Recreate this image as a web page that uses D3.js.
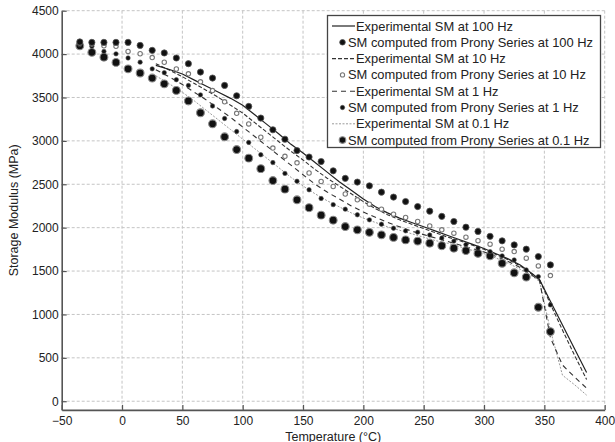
<!DOCTYPE html>
<html>
<head>
<meta charset="utf-8">
<script src="https://cdn.jsdelivr.net/npm/d3@7"></script>
<style>
  html, body { margin: 0; padding: 0; background: #fff; }
  svg { display: block; font-family: "Liberation Sans", Arial, Helvetica, sans-serif; }
</style>
</head>
<body>
<svg id="chart" width="615" height="442"></svg>
<script>
// Temperatures (°C) at which the Prony-series storage modulus was evaluated
const pronyTemps = [-35, -25, -15, -5, 5, 15, 25, 35, 45, 55, 65, 75, 85, 95, 105, 115, 125, 135, 145, 155,
  165, 175, 185, 195, 205, 215, 225, 235, 245, 255, 265, 275, 285, 295, 305, 315, 325, 335, 345, 355];

// Storage modulus (MPa) computed from the Prony series
const prony100 = [4140, 4135, 4135, 4135, 4135, 4100, 4043, 4013, 3955, 3889, 3793, 3724, 3639, 3520, 3397, 3263, 3128, 3019, 2888, 2814,
  2762, 2655, 2568, 2525, 2482, 2409, 2352, 2301, 2243, 2190, 2130, 2071, 2005, 1956, 1900, 1848, 1801, 1752, 1667, 1571];
const prony10 = [4128, 4115, 4095, 4090, 4031, 4004, 3960, 3906, 3828, 3773, 3680, 3580, 3450, 3317, 3195, 3042, 2917, 2822, 2747, 2630,
  2532, 2474, 2388, 2321, 2271, 2213, 2155, 2117, 2071, 2020, 1975, 1936, 1890, 1850, 1810, 1752, 1724, 1648, 1559, 1448];
const prony1 = [4110, 4090, 4031, 4003, 3955, 3907, 3830, 3786, 3705, 3639, 3530, 3402, 3258, 3108, 2982, 2840, 2750, 2625, 2535, 2436,
  2336, 2265, 2213, 2148, 2090, 2040, 1994, 1963, 1948, 1915, 1880, 1845, 1805, 1765, 1724, 1675, 1628, 1513, 1436, 1110];
const prony01 = [4095, 4020, 3964, 3904, 3830, 3782, 3724, 3657, 3581, 3460, 3324, 3197, 3047, 2900, 2801, 2680, 2543, 2444, 2321, 2230,
  2144, 2086, 2013, 1975, 1946, 1917, 1888, 1859, 1845, 1821, 1792, 1763, 1736, 1703, 1675, 1590, 1480, 1430, 1083, 802];

// Temperatures (°C) of the experimental DMA readings
const expTemps = [28, 40, 50, 60, 70, 80, 90, 100, 110, 120, 130, 140, 150, 160, 170, 180, 190, 200, 210, 220,
  230, 240, 250, 260, 270, 280, 290, 300, 310, 320, 330, 340, 346, 355, 365, 375, 385];

// Experimental storage modulus (MPa)
const exp100 = [3870, 3820, 3770, 3700, 3630, 3560, 3490, 3410, 3300, 3190, 3080, 2960, 2860, 2750, 2640, 2530, 2430, 2330, 2240, 2170,
  2110, 2060, 2010, 1960, 1910, 1860, 1810, 1760, 1700, 1640, 1570, 1470, 1400, 1153, 879, 604, 330];
const exp10 = [3890, 3810, 3740, 3660, 3580, 3500, 3410, 3320, 3210, 3100, 2990, 2880, 2780, 2670, 2570, 2480, 2390, 2300, 2220, 2150,
  2090, 2040, 1990, 1940, 1890, 1850, 1800, 1750, 1690, 1630, 1560, 1460, 1400, 1120, 820, 530, 250];
const exp1 = [3820, 3730, 3650, 3560, 3470, 3370, 3270, 3160, 3050, 2940, 2830, 2720, 2610, 2500, 2410, 2330, 2250, 2180, 2120, 2060,
  2010, 1960, 1920, 1880, 1840, 1800, 1760, 1720, 1670, 1610, 1540, 1450, 1390, 732, 417, 280, 150];
const exp01 = [3750, 3650, 3560, 3460, 3350, 3240, 3130, 3020, 2910, 2800, 2690, 2580, 2480, 2390, 2310, 2240, 2170, 2110, 2060, 2010,
  1970, 1930, 1890, 1850, 1820, 1780, 1740, 1700, 1650, 1590, 1520, 1440, 1380, 820, 300, 190, 70];

// Axis ticks
const xTicks = [-50, 0, 50, 100, 150, 200, 250, 300, 350, 400];
const yTicks = [0, 500, 1000, 1500, 2000, 2500, 3000, 3500, 4000, 4500];

const legendLabels = [
  "Experimental SM at 100 Hz",
  "SM computed from Prony Series at 100 Hz",
  "Experimental SM at 10 Hz",
  "SM computed from Prony Series at 10 Hz",
  "Experimental SM at 1 Hz",
  "SM computed from Prony Series at 1 Hz",
  "Experimental SM at 0.1 Hz",
  "SM computed from Prony Series at 0.1 Hz"
];

// Line and marker styles per frequency
const lineStyles = [
  { values: exp100, stroke: "#222", width: 1.2, dash: null },
  { values: exp10, stroke: "#333", width: 1.1, dash: "4,2" },
  { values: exp1, stroke: "#333", width: 1.1, dash: "5,4" },
  { values: exp01, stroke: "#9a9a9a", width: 1, dash: "2,1.5" }
];
const markerStyles = [
  { values: prony100, r: 3.1, fill: "#111", stroke: "#555", sw: 0.8, lr: 2.8 },
  { values: prony10, r: 2.2, fill: "#fff", stroke: "#777", sw: 1.1, lr: 2.1 },
  { values: prony1, r: 2.2, fill: "#111", stroke: "#555", sw: 0.6, lr: 2.2 },
  { values: prony01, r: 3.9, fill: "#111", stroke: "#8a8a8a", sw: 1.1, lr: 3.3 }
];

const svg = d3.select("#chart");
const plotLeft = 61.7, plotRight = 604.7, plotTop = 10.7, plotBottom = 409.9;

const x = d3.scaleLinear().domain([-50, 400]).range([plotLeft, plotRight]);
const y = d3.scaleLinear().domain([-100, 4500]).range([plotBottom, plotTop]);

// Dashed grid
const grid = svg.append("g").attr("stroke", "#c4c4c4").attr("stroke-width", 1).attr("stroke-dasharray", "3,2");
grid.selectAll("line.gx").data(xTicks.filter(d => d !== -50)).join("line")
  .attr("class", "gx")
  .attr("x1", d => x(d)).attr("x2", d => x(d))
  .attr("y1", plotTop).attr("y2", plotBottom);
grid.selectAll("line.gy").data(yTicks).join("line")
  .attr("class", "gy")
  .attr("x1", plotLeft).attr("x2", plotRight)
  .attr("y1", d => y(d)).attr("y2", d => y(d));

// Axes with inward ticks
const xAxis = d3.axisBottom(x).tickValues(xTicks).tickFormat(d3.format("d"))
  .tickSizeInner(-5).tickSizeOuter(0).tickPadding(7);
const yAxis = d3.axisLeft(y).tickValues(yTicks).tickFormat(d3.format("d"))
  .tickSizeInner(-5).tickSizeOuter(0).tickPadding(3);

const gx = svg.append("g").attr("transform", `translate(0,${plotBottom})`).call(xAxis);
const gy = svg.append("g").attr("transform", `translate(${plotLeft},0)`).call(yAxis);
[gx, gy].forEach(g => {
  g.select(".domain").attr("stroke", "#555").attr("stroke-width", 1.6);
  g.selectAll(".tick line").attr("stroke", "#555").attr("stroke-width", 1.2);
  g.selectAll(".tick text").attr("fill", "#222").style("font-size", "12px")
    .style("font-family", "'Liberation Sans', Arial, sans-serif");
});

// Axis titles
svg.append("text")
  .attr("x", (plotLeft + plotRight) / 2).attr("y", 440.5)
  .attr("text-anchor", "middle").attr("fill", "#222").style("font-size", "12.5px")
  .text("Temperature (°C)");
svg.append("text")
  .attr("transform", `translate(18,${(plotTop + plotBottom) / 2}) rotate(-90)`)
  .attr("text-anchor", "middle").attr("fill", "#222").style("font-size", "12.5px")
  .text("Storage Modulus (MPa)");

// Experimental curves
const line = d3.line().x((d, i) => x(expTemps[i])).y(d => y(d));
const plot = svg.append("g");
lineStyles.slice().reverse().forEach(s => {
  plot.append("path")
    .attr("d", line(s.values))
    .attr("fill", "none")
    .attr("stroke", s.stroke)
    .attr("stroke-width", s.width)
    .attr("stroke-dasharray", s.dash);
});

// Prony-series markers
markerStyles.slice().reverse().forEach(s => {
  plot.append("g").selectAll("circle").data(s.values).join("circle")
    .attr("cx", (d, i) => x(pronyTemps[i]))
    .attr("cy", d => y(d))
    .attr("r", s.r)
    .attr("fill", s.fill)
    .attr("stroke", s.stroke)
    .attr("stroke-width", s.sw);
});

// Legend
const lg = svg.append("g");
lg.append("rect")
  .attr("x", 327.5).attr("y", 15.5).attr("width", 273).attr("height", 132)
  .attr("fill", "#fff").attr("stroke", "#444").attr("stroke-width", 1.3);
const rowY = i => 26 + i * 16.3;
legendLabels.forEach((label, i) => {
  const k = Math.floor(i / 2);
  const cy = rowY(i);
  if (i % 2 === 0) {
    const s = lineStyles[k];
    lg.append("line")
      .attr("x1", 332).attr("x2", 355).attr("y1", cy).attr("y2", cy)
      .attr("stroke", s.stroke).attr("stroke-width", s.width)
      .attr("stroke-dasharray", s.dash);
    lg.append("text").attr("x", 356).attr("y", cy).attr("dy", "0.35em")
      .attr("fill", "#222").style("font-size", "12.9px").text(label);
  } else {
    const s = markerStyles[k];
    lg.append("circle")
      .attr("cx", 342.5).attr("cy", cy).attr("r", s.lr)
      .attr("fill", s.fill).attr("stroke", s.stroke).attr("stroke-width", s.sw);
    lg.append("text").attr("x", 348).attr("y", cy).attr("dy", "0.35em")
      .attr("fill", "#222").style("font-size", "12.9px").text(label);
  }
});
</script>
</body>
</html>
